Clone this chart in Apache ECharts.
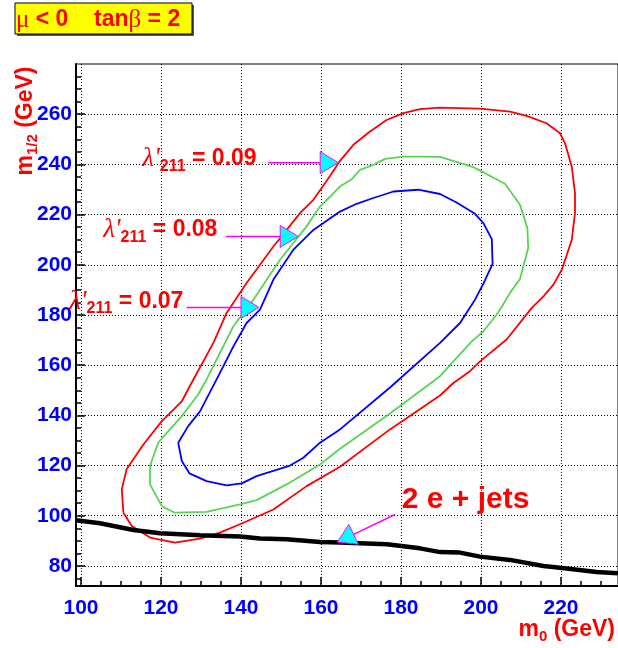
<!DOCTYPE html>
<html lang="en">
<head>
    <meta charset="UTF-8">
    <title>lambda'211 exclusion contours</title>
    <script src="https://cdn.jsdelivr.net/npm/echarts@6/dist/echarts.min.js"></script>
    <style>
        html, body { margin: 0; padding: 0; background: #fff; }
        #chart { width: 618px; height: 648px; }
    </style>
</head>
<body>
<div id="chart"></div>
<script>
    // contour points [m0, m1/2] in GeV
    var contour09 = [
        [110.6, 101.2], [110.2, 110.5], [111.4, 118.5], [115.6, 128.4], [120.2, 137.7], [125.2, 145.6],
        [128.1, 154.3], [133.1, 168.9], [136.4, 180.8], [141.4, 192.7], [148.1, 207.3], [154.75, 220.6],
        [158.1, 225.9], [162.25, 235.4], [164.75, 241.4], [168.1, 247.8], [172.25, 253.1], [176.4, 257.7],
        [180.6, 260.4], [184.75, 262.0], [189.75, 262.6], [199.75, 262.2], [207.25, 261.0], [211.4, 259.3],
        [216.4, 256.4], [219.75, 252.4], [221.0, 248.4], [222.7, 239.1], [223.5, 228.6], [223.5, 220.6],
        [222.7, 210.0], [220.2, 198.0], [218.1, 192.1], [215.6, 187.4], [212.7, 182.8], [206.4, 170.2],
        [199.75, 161.5], [197.25, 157.6], [193.1, 152.9], [189.75, 147.9], [177.25, 134.4], [164.75, 119.5],
        [156.4, 111.8], [148.1, 102.5], [140.6, 97.2], [134.75, 93.3], [129.75, 90.9], [123.5, 89.3],
        [117.25, 91.3], [112.7, 95.9], [110.6, 101.2]
    ];
    var contour08 = [
        [120.2, 103.8], [117.25, 112.5], [117.25, 119.8], [119.3, 129.1], [125.2, 139.7], [129.3, 148.3],
        [131.4, 154.3], [134.75, 164.9], [138.1, 175.5], [143.1, 186.1], [149.75, 202.0], [156.4, 215.3],
        [159.75, 223.2], [162.25, 227.1], [164.75, 231.2], [167.7, 234.1], [169.75, 237.8], [173.1, 239.8],
        [176.0, 242.2], [180.6, 243.1], [183.9, 243.1], [189.75, 243.0], [198.1, 238.9], [206.0, 232.3],
        [209.75, 223.9], [211.6, 214.6], [211.8, 206.7], [209.75, 194.3], [207.25, 188.8], [205.5, 184.1],
        [203.9, 180.1], [200.6, 173.5], [197.7, 169.5], [193.1, 161.5], [189.75, 155.6], [177.25, 140.7],
        [164.75, 126.7], [159.75, 120.4], [152.25, 113.2], [143.9, 106.2], [139.75, 104.5], [131.4, 101.5],
        [123.5, 101.2], [120.2, 103.8]
    ];
    var contour07 = [
        [124.3, 129.1], [125.2, 121.8], [127.1, 116.9], [131.4, 113.8], [136.4, 112.1], [140.2, 112.9],
        [143.9, 115.8], [152.25, 120.0], [155.6, 123.1], [159.75, 129.1], [164.75, 134.4], [177.25, 151.1],
        [189.75, 168.9], [194.75, 176.8], [198.5, 186.1], [200.6, 192.5], [202.9, 200.4], [202.7, 210.2],
        [200.6, 216.6], [198.5, 220.3], [193.9, 224.8], [189.75, 228.2], [184.3, 229.9], [178.1, 229.2],
        [173.1, 226.6], [168.9, 224.3], [164.75, 221.2], [160.6, 216.6], [158.1, 213.9], [153.1, 206.0],
        [148.1, 194.1], [144.75, 182.1], [141.4, 176.8], [138.1, 167.5], [135.6, 159.6], [133.9, 154.3],
        [129.75, 141.6], [126.8, 135.7], [124.3, 129.1]
    ];
    var twoElectronJets = [
        [98.75, 98.2], [104.75, 97.0], [113.1, 94.3], [119.75, 93.0], [129.75, 92.2], [139.75, 91.7],
        [144.75, 90.9], [151.4, 90.6], [159.75, 89.5], [164.75, 89.3], [176.5, 88.6], [184.75, 87.0],
        [189.75, 85.5], [194.75, 85.3], [199.75, 83.7], [207.25, 82.4], [215.6, 80.0], [219.75, 79.3],
        [228.9, 77.6], [234.25, 77.1]
    ];

    // arrows: [from m0, from m1/2, tip m0, tip m1/2]
    var arrows = [
        [146.8, 240.7, 164.3, 240.7],
        [136.25, 211.3, 154.3, 211.3],
        [126.4, 183.0, 144.5, 183.0],
        [178.5, 100.5, 164.1, 89.5]
    ];
    // labels: [m0, m1/2] anchor, text, align
    var labelPos = [[143.9, 242.2], [134.1, 213.9], [125.6, 185.4], [180.2, 106.5]];
    var labelText = [
        "{lam|λ'}{sub|211}{eq| = 0.09}",
        "{lam|λ'}{sub|211}{eq| = 0.08}",
        "{lam|λ'}{sub|211}{eq| = 0.07}",
        "{big|2 e + jets}"
    ];
    var labelAlign = ['right', 'right', 'right', 'left'];

    var xMajor = [100, 120, 140, 160, 180, 200, 220];
    var yMajor = [80, 100, 120, 140, 160, 180, 200, 220, 240, 260];
    var xMinor = [];
    for (var v = 100; v <= 230; v += 5) xMinor.push(v);
    var yMinor = [];
    for (var w = 75; w <= 275; w += 5) yMinor.push(w);

    var sans = '"Liberation Sans", Arial, Helvetica, sans-serif';
    var serif = '"Liberation Serif", "DejaVu Serif", serif';
    var red = '#ff0000';

    var chart = echarts.init(document.getElementById('chart'));

    var richLabel = {
        lam: { fontFamily: serif, fontStyle: 'italic', fontSize: 27, fill: red },
        sub: { fontFamily: sans, fontWeight: 'bold', fontSize: 16, fill: red, padding: [15, 0, 0, 0] },
        eq: { fontFamily: sans, fontWeight: 'bold', fontSize: 23, fill: red },
        big: { fontFamily: sans, fontWeight: 'bold', fontSize: 30, fill: red }
    };

    function renderArrow(params, api) {
        var p0 = api.coord([api.value(0), api.value(1)]);
        var p1 = api.coord([api.value(2), api.value(3)]);
        var dx = p1[0] - p0[0], dy = p1[1] - p0[1];
        var len = Math.sqrt(dx * dx + dy * dy);
        var ux = dx / len, uy = dy / len;
        var headLen = 18, halfW = 11;
        var bx = p1[0] - ux * headLen, by = p1[1] - uy * headLen;
        return {
            type: 'group',
            children: [
                { type: 'line', shape: { x1: p0[0], y1: p0[1], x2: bx, y2: by },
                  style: { stroke: '#ff00ff', lineWidth: 1.5 } },
                { type: 'polygon',
                  shape: { points: [[p1[0], p1[1]], [bx - uy * halfW, by + ux * halfW], [bx + uy * halfW, by - ux * halfW]] },
                  style: { fill: '#00ffff', stroke: '#ff00ff', lineWidth: 1 } }
            ]
        };
    }

    function renderLabel(params, api) {
        var p = api.coord([api.value(0), api.value(1)]);
        var i = params.dataIndex;
        return {
            type: 'text',
            x: p[0], y: p[1],
            style: {
                text: labelText[i],
                rich: richLabel,
                fill: red,
                align: labelAlign[i],
                verticalAlign: 'middle'
            }
        };
    }

    function contourSeries(data, color) {
        return {
            type: 'line', data: data, showSymbol: false, symbol: 'none',
            lineStyle: { color: color, width: 1.8 }, z: 3, silent: true, animation: false
        };
    }

    var titleRich = {
        m: { fontFamily: sans, fontWeight: 'bold', fontSize: 23, fill: red },
        s: { fontFamily: sans, fontWeight: 'bold', fontSize: 15, fill: red, padding: [14, 0, 0, 0] }
    };

    var option = {
        animation: false,
        grid: { left: 76, top: 64, right: 0, bottom: 62, show: true, borderColor: '#000', borderWidth: 1 },
        xAxis: [{
            type: 'value', min: 98.75, max: 234.25,
            axisLine: { lineStyle: { color: '#000', width: 2 } },
            axisTick: { inside: true, length: 9, customValues: xMajor, lineStyle: { color: '#000', width: 1.5 } },
            axisLabel: { customValues: xMajor, margin: 12, color: '#0000ff', fontFamily: sans, fontWeight: 'bold', fontSize: 21 },
            splitLine: { show: true, lineStyle: { color: '#000', type: [1, 2], width: 1 } }
        }, {
            type: 'value', min: 98.75, max: 234.25, position: 'bottom',
            axisLine: { show: false },
            axisTick: { inside: true, length: 5, customValues: xMinor, lineStyle: { color: '#000', width: 1.5 } },
            axisLabel: { show: false },
            splitLine: { show: false }
        }],
        yAxis: [{
            type: 'value', min: 72, max: 280,
            axisLine: { show: true, lineStyle: { color: '#000', width: 2 } },
            axisTick: { show: true, inside: true, length: 9, customValues: yMajor, lineStyle: { color: '#000', width: 1.5 } },
            axisLabel: { customValues: yMajor, margin: 4, padding: [6, 0, 0, 0], color: '#0000ff', fontFamily: sans, fontWeight: 'bold', fontSize: 21 },
            splitLine: { show: true, lineStyle: { color: '#000', type: [1, 2], width: 1 } }
        }, {
            type: 'value', min: 72, max: 280, position: 'left',
            axisLine: { show: false },
            axisTick: { show: true, inside: true, length: 5, customValues: yMinor, lineStyle: { color: '#000', width: 1.5 } },
            axisLabel: { show: false },
            splitLine: { show: false }
        }],
        graphic: [
            { type: 'rect', shape: { x: 17, y: 5, width: 177, height: 31 }, style: { fill: '#555' }, z: 10 },
            { type: 'rect', shape: { x: 15, y: 3, width: 177, height: 31 }, style: { fill: '#ffff00', stroke: '#000', lineWidth: 1 }, z: 11 },
            { type: 'text', x: 16, y: 20, z: 12,
              style: {
                  text: '{g|μ}{t| < 0    tan}{g|β}{t| = 2}',
                  fill: red,
                  verticalAlign: 'middle',
                  rich: {
                      g: { fontFamily: serif, fontSize: 25, fill: red },
                      t: { fontFamily: sans, fontWeight: 'bold', fontSize: 23, fill: red }
                  }
              } },
            { type: 'text', x: 615, y: 630, z: 12,
              style: {
                  text: '{m|m}{s|0}{m| (GeV)}',
                  fill: red,
                  align: 'right', verticalAlign: 'middle',
                  rich: titleRich
              } },
            { type: 'text', x: 26, y: 121, z: 12, rotation: Math.PI / 2,
              style: {
                  text: '{m|m}{s|1/2}{m| (GeV)}',
                  fill: red,
                  align: 'center', verticalAlign: 'middle',
                  rich: titleRich
              } }
        ],
        series: [
            contourSeries(contour09, red),
            contourSeries(contour08, '#59d454'),
            contourSeries(contour07, '#0000ff'),
            {
                type: 'line', data: twoElectronJets, showSymbol: false, symbol: 'none',
                lineStyle: { color: '#000', width: 4.5 }, z: 4, silent: true
            },
            {
                type: 'custom', renderItem: renderArrow, data: arrows, z: 6, silent: true, clip: false,
                encode: { x: [0, 2], y: [1, 3] }
            },
            {
                type: 'custom', renderItem: renderLabel, data: labelPos, z: 7, silent: true, clip: false,
                encode: { x: 0, y: 1 }
            }
        ]
    };
    chart.setOption(option);
</script>
</body>
</html>
